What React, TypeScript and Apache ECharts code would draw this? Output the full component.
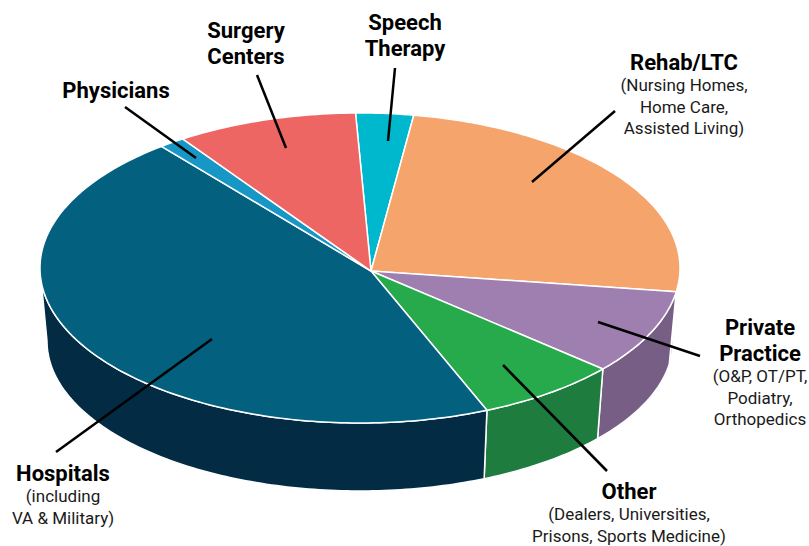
import React, { useEffect, useRef } from "react";
import * as echarts from "echarts";

// Slices in clockwise order starting at the top (Speech Therapy)
const categories = ["Speech Therapy", "Rehab/LTC", "Private Practice", "Other", "Hospitals", "Physicians", "Surgery Centers"];
const shares = [2.9, 24.7, 8.8, 7.2, 45.7, 1.3, 9.1];
const topColors = ["#00b8ce", "#f5a46c", "#9e7fb0", "#27aa4b", "#03607f", "#1797c6", "#ee6663"];
const sideColors = ["#008a9a", "#c67b47", "#775e84", "#1e7d3e", "#032c44", "#0d6f94", "#b94846"];

// Label texts
const labelTitles = [["Speech", "Therapy"], ["Rehab/LTC"], ["Private", "Practice"], ["Other"], ["Hospitals"], ["Physicians"], ["Surgery", "Centers"]];
const labelNotes = [[], ["(Nursing Homes,", "Home Care,", "Assisted Living)"], ["(O&P, OT/PT,", "Podiatry,", "Orthopedics"], ["(Dealers, Universities,", "Prisons, Sports Medicine)"], ["(including", "VA & Military)"], [], []];

// Layout (annotation placement)
const labelLayout = [
  { x: 405, y: 22, line: [395, 68, 388, 141] },
  { x: 684, y: 62, line: [615, 111, 532, 182] },
  { x: 760, y: 327, line: [700, 356, 598, 322] },
  { x: 629, y: 491, line: [607, 471, 503, 365] },
  { x: 63, y: 473, line: [56, 452, 212, 339] },
  { x: 116, y: 90, line: [125, 107, 196, 158] },
  { x: 246, y: 30, line: [257, 75, 286, 148] },
];

const GEOM = { cx: 360, cy: 268, rx: 320, ry: 155, brx: 313, bry: 150, depth: 73, start: -90.8, apexDx: 11, apexDy: 3 };

function sliceAngles() {
  const total = shares.reduce((a, b) => a + b, 0);
  const out: [number, number][] = [];
  let acc = GEOM.start;
  for (const v of shares) {
    const sweep = (v / total) * 360;
    out.push([acc, acc + sweep]);
    acc += sweep;
  }
  return out;
}

const rad = (d: number) => (d * Math.PI) / 180;
const topPt = (deg: number) => [GEOM.cx + GEOM.rx * Math.cos(rad(deg)), GEOM.cy + GEOM.ry * Math.sin(rad(deg))];
const botPt = (deg: number) => [GEOM.cx + GEOM.brx * Math.cos(rad(deg)), GEOM.cy + GEOM.depth + GEOM.bry * Math.sin(rad(deg))];

function arc(a: number, b: number, f: (d: number) => number[]) {
  const pts: number[][] = [];
  const n = Math.max(2, Math.ceil(Math.abs(b - a) / 1));
  for (let i = 0; i <= n; i++) pts.push(f(a + ((b - a) * i) / n));
  return pts;
}

export default function App() {
  const ref = useRef<HTMLDivElement>(null);
  useEffect(() => {
    if (!ref.current) return;
    const chart = echarts.init(ref.current, null, { renderer: "svg" });
    const angles = sliceAngles();

    const wallItem = (params: any) => {
      const [a0, b0] = angles[params.dataIndex];
      const children: any[] = [];
      for (const off of [-360, 0, 360]) {
        const a = Math.max(a0 + off, 0);
        const b = Math.min(b0 + off, 180);
        if (b > a) {
          const pts = arc(a, b, topPt).concat(arc(b, a, botPt));
          children.push({
            type: "polygon",
            shape: { points: pts },
            style: { fill: sideColors[params.dataIndex], stroke: "#ffffff", lineWidth: 1.5, lineJoin: "round" },
          });
        }
      }
      return { type: "group", children };
    };

    const topItem = (params: any) => {
      const [a, b] = angles[params.dataIndex];
      const pts = [[GEOM.cx + GEOM.apexDx, GEOM.cy + GEOM.apexDy]].concat(arc(a, b, topPt));
      return {
        type: "polygon",
        shape: { points: pts },
        style: { fill: topColors[params.dataIndex], stroke: "#ffffff", lineWidth: 1.5, lineJoin: "round" },
      };
    };

    const graphics: any[] = [];
    labelLayout.forEach((l, i) => {
      graphics.push({
        type: "line",
        shape: { x1: l.line[0], y1: l.line[1], x2: l.line[2], y2: l.line[3] },
        style: { stroke: "#000000", lineWidth: 2.5 },
        z: 10,
      });
      let y = l.y;
      labelTitles[i].forEach((t) => {
        graphics.push({
          type: "text",
          x: l.x,
          y,
          z: 10,
          style: { text: t, fill: "#000000", font: "bold 22px Roboto", align: "center", verticalAlign: "middle" },
        });
        y += 26;
      });
      y -= 3;
      labelNotes[i].forEach((t) => {
        graphics.push({
          type: "text",
          x: l.x,
          y,
          z: 10,
          style: { text: t, fill: "#1a1a1a", font: "17px Roboto", align: "center", verticalAlign: "middle" },
        });
        y += 21.5;
      });
    });

    chart.setOption({
      animation: false,
      backgroundColor: "#ffffff",
      series: [
        {
          type: "custom",
          name: "walls",
          coordinateSystem: "none",
          data: shares.map((v, i) => ({ name: categories[i], value: v })),
          renderItem: wallItem,
          z: 1,
          silent: true,
        },
        {
          type: "custom",
          name: "tops",
          coordinateSystem: "none",
          data: shares.map((v, i) => ({ name: categories[i], value: v })),
          renderItem: topItem,
          z: 2,
          silent: true,
        },
      ],
      graphic: graphics,
    });
    return () => chart.dispose();
  }, []);
  return <div ref={ref} style={{ width: 809, height: 546, position: "absolute", left: 0, top: 0 }} />;
}
